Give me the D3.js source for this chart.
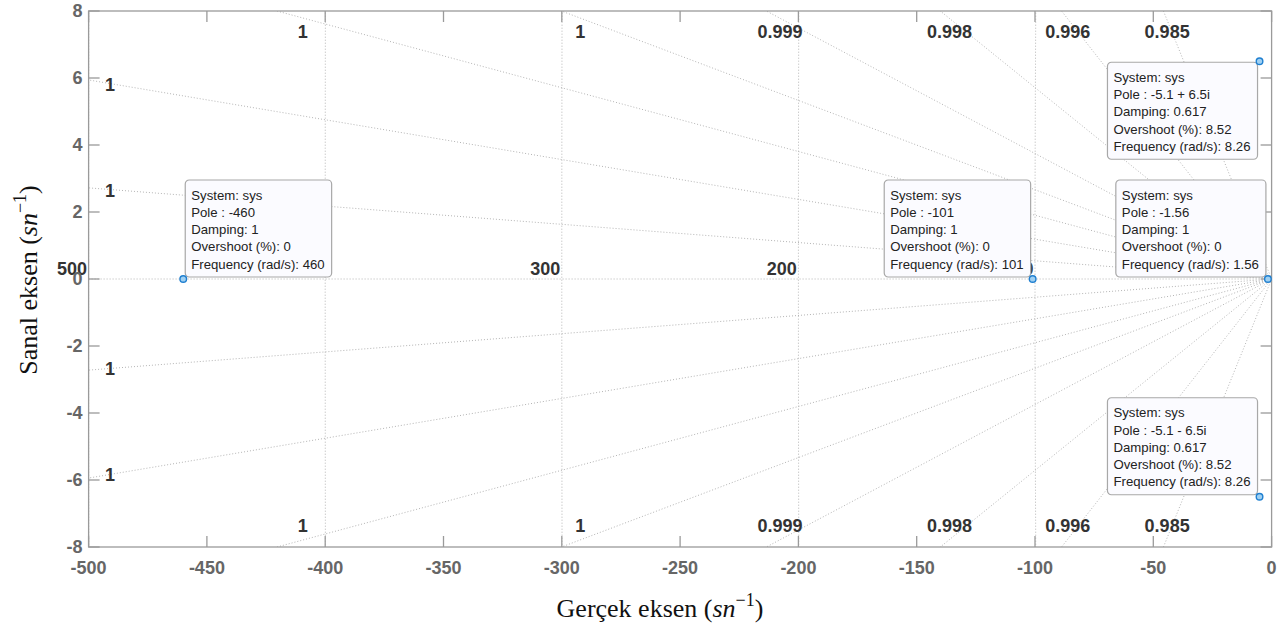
<!DOCTYPE html>
<html>
<head>
<meta charset="utf-8">
<script src="https://cdn.jsdelivr.net/npm/d3@7"></script>
<style>
  html, body { margin: 0; padding: 0; background: #ffffff; }
  svg { display: block; }
</style>
</head>
<body>
<svg id="chart" width="1287" height="625"></svg>
<script>
// Pole-zero map with damping / natural-frequency grid

// Axis ticks
const xTicks = [-500, -450, -400, -350, -300, -250, -200, -150, -100, -50, 0];
const yTicks = [-8, -6, -4, -2, 0, 2, 4, 6, 8];

// Damping-ratio grid lines and their labels
const dampingGrid   = [0.9999852, 0.9999294, 0.999819, 0.999645, 0.999299, 0.998372, 0.995964, 0.98503];
const dampingLabels = ["1", "1", "1", "1", "0.999", "0.998", "0.996", "0.985"];

// Natural-frequency grid circles and the ones that carry a label
const wnGrid   = [100, 200, 300, 400, 500];
const wnLabels = [100, 200, 300, 500];

// Poles with data tips
const poleRe    = [-460, -101, -1.56, -5.1, -5.1];
const poleIm    = [0, 0, 0, 6.5, -6.5];
const poleZeta  = [1, 1, 1, 0.617, 0.617];
const poleOS    = [0, 0, 0, 8.52, 8.52];
const poleFreq  = [460, 101, 1.56, 8.26, 8.26];
const tipSide   = ["ne", "nw", "nw", "sw", "nw"];

const svg = d3.select("#chart");
const plot = { left: 88.6, right: 1271.6, top: 11, bottom: 547 };

const x = d3.scaleLinear().domain([-500, 0]).range([plot.left, plot.right]);
const y = d3.scaleLinear().domain([-8, 8]).range([plot.bottom, plot.top]);

svg.append("defs").append("clipPath").attr("id", "plotClip")
  .append("rect").attr("x", plot.left).attr("y", plot.top)
  .attr("width", plot.right - plot.left).attr("height", plot.bottom - plot.top);

const gridColor = "#b4b4b4";
const grid = svg.append("g").attr("clip-path", "url(#plotClip)");

// natural-frequency circles (nearly vertical at this aspect ratio)
wnGrid.forEach(wn => {
  const pts = d3.range(-8.2, 8.21, 0.1).map(v => [-Math.sqrt(Math.max(wn * wn - v * v, 0)), v]);
  grid.append("path")
    .attr("d", d3.line().x(d => x(d[0])).y(d => y(d[1]))(pts))
    .attr("fill", "none").attr("stroke", gridColor)
    .attr("stroke-width", 1).attr("stroke-dasharray", "1,2");
});

// real and imaginary axis lines
grid.append("line").attr("x1", x(-500)).attr("x2", x(0)).attr("y1", y(0)).attr("y2", y(0))
  .attr("stroke", gridColor).attr("stroke-dasharray", "1,2");
grid.append("line").attr("x1", x(0)).attr("x2", x(0)).attr("y1", y(-8)).attr("y2", y(8))
  .attr("stroke", gridColor).attr("stroke-dasharray", "1,2");

// damping rays from the origin
dampingGrid.forEach(z => {
  const slope = Math.sqrt(1 - z * z) / z;
  const r = 1000;
  [1, -1].forEach(s => {
    grid.append("line")
      .attr("x1", x(0)).attr("y1", y(0))
      .attr("x2", x(-r)).attr("y2", y(s * r * slope))
      .attr("stroke", gridColor).attr("stroke-width", 1).attr("stroke-dasharray", "1,2");
  });
});

// grid labels
const lblFont = "'Liberation Sans', Arial, Helvetica, sans-serif";
const gl = svg.append("g")
  .attr("font-family", lblFont).attr("font-weight", "bold")
  .attr("font-size", 18).attr("fill", "#333333");

dampingGrid.forEach((z, i) => {
  const slope = Math.sqrt(1 - z * z) / z;
  const xc = -7.8 / slope;
  [1, -1].forEach(s => {
    if (xc > -491) {
      gl.append("text")
        .attr("x", x(xc) + 1).attr("y", y(s * 7.37))
        .attr("text-anchor", "middle").attr("dominant-baseline", "central")
        .text(dampingLabels[i]);
    } else {
      gl.append("text")
        .attr("x", x(-491)).attr("y", y(s * 491 * slope) + 1)
        .attr("text-anchor", "middle").attr("dominant-baseline", "central")
        .text(dampingLabels[i]);
    }
  });
});

wnLabels.forEach(wn => {
  gl.append("text")
    .attr("x", x(-wn) - 1.5).attr("y", y(0) - 4)
    .attr("text-anchor", "end")
    .text(wn);
});

// axes frame and ticks
const axisColor = "#9a9a9a";
const tickLen = 11;
const frame = svg.append("g").attr("stroke", axisColor).attr("stroke-width", 1.3).attr("fill", "none");
frame.append("rect").attr("x", plot.left).attr("y", plot.top)
  .attr("width", plot.right - plot.left).attr("height", plot.bottom - plot.top);
xTicks.forEach(t => {
  frame.append("line").attr("x1", x(t)).attr("x2", x(t)).attr("y1", plot.bottom).attr("y2", plot.bottom - tickLen);
  frame.append("line").attr("x1", x(t)).attr("x2", x(t)).attr("y1", plot.top).attr("y2", plot.top + tickLen);
});
yTicks.forEach(t => {
  frame.append("line").attr("x1", plot.left).attr("x2", plot.left + tickLen).attr("y1", y(t)).attr("y2", y(t));
  frame.append("line").attr("x1", plot.right).attr("x2", plot.right - tickLen).attr("y1", y(t)).attr("y2", y(t));
});

const tl = svg.append("g").attr("font-family", lblFont).attr("font-weight", "bold")
  .attr("font-size", 18).attr("fill", "#666666");
xTicks.forEach(t => {
  tl.append("text").attr("x", x(t)).attr("y", 574).attr("text-anchor", "middle").text(t);
});
yTicks.forEach(t => {
  tl.append("text").attr("x", plot.left - 6).attr("y", y(t)).attr("text-anchor", "end")
    .attr("dominant-baseline", "central").text(t);
});

// axis titles
const serif = "'Liberation Serif', 'Times New Roman', serif";
const xt = svg.append("text").attr("x", 660).attr("y", 617)
  .attr("text-anchor", "middle").attr("font-family", serif).attr("font-size", 26).attr("fill", "#111");
xt.append("tspan").text("Gerçek eksen (");
xt.append("tspan").attr("font-style", "italic").text("sn");
xt.append("tspan").attr("font-size", 18).attr("dy", -11).text("−1");
xt.append("tspan").attr("dy", 11).text(")");

const yt = svg.append("text").attr("transform", "translate(37,280) rotate(-90)")
  .attr("text-anchor", "middle").attr("font-family", serif).attr("font-size", 26).attr("fill", "#111");
yt.append("tspan").text("Sanal eksen (");
yt.append("tspan").attr("font-style", "italic").text("sn");
yt.append("tspan").attr("font-size", 18).attr("dy", -11).text("−1");
yt.append("tspan").attr("dy", 11).text(")");

// data tips
const tipFont = "'Liberation Sans', Arial, Helvetica, sans-serif";
const lineH = 17.3;
poleRe.forEach((re, i) => {
  const im = poleIm[i];
  const poleStr = im === 0 ? `${re}` : `${re} ${im > 0 ? "+" : "-"} ${Math.abs(im)}i`;
  const lines = [
    "System: sys",
    `Pole : ${poleStr}`,
    `Damping: ${poleZeta[i]}`,
    `Overshoot (%): ${poleOS[i]}`,
    `Frequency (rad/s): ${poleFreq[i]}`
  ];
  const g = svg.append("g");
  const rect = g.append("rect").attr("rx", 4).attr("ry", 4)
    .attr("fill", "#fbfbff").attr("stroke", "#a8a8a8").attr("stroke-width", 1.2);
  const txt = g.append("g").attr("font-family", tipFont).attr("font-size", 13.2).attr("fill", "#222");
  const texts = lines.map((s, k) => txt.append("text").attr("y", 19.5 + k * lineH).text(s));
  const w = d3.max(texts, t => t.node().getComputedTextLength()) + 13;
  const h = 97;
  const px = x(re), py = y(im);
  const side = tipSide[i];
  const bx = side.includes("e") ? px + 2 : px - 2 - w;
  const by = side.includes("n") ? py - 2 - h : py + 1;
  rect.attr("x", 0).attr("y", 0).attr("width", w).attr("height", h);
  texts.forEach(t => t.attr("x", 6));
  g.attr("transform", `translate(${bx},${by})`);
});

// pole markers
svg.append("g").selectAll("circle").data(poleRe).join("circle")
  .attr("cx", d => x(d)).attr("cy", (d, i) => y(poleIm[i]))
  .attr("r", 3.3).attr("fill", "#9fd0f2").attr("stroke", "#1f7fd0").attr("stroke-width", 1.4);
</script>
</body>
</html>
